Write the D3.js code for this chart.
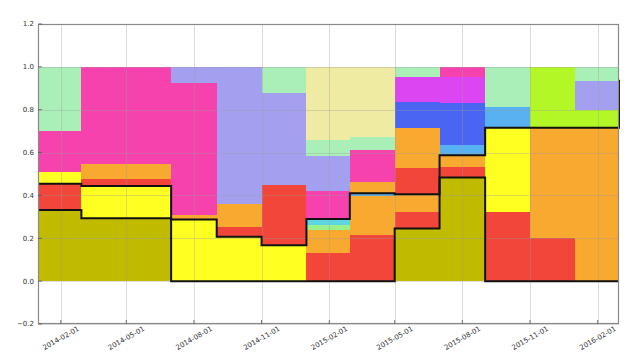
<!DOCTYPE html>
<html><head><meta charset="utf-8">
<script src="https://cdn.jsdelivr.net/npm/d3@7"></script>
<style>html,body{margin:0;padding:0;background:#fff;}svg{display:block;}</style>
</head><body>
<svg id="chart" width="640" height="358"></svg>
<script>
// ---- data ----
const periodStarts = ["2014-01-01","2014-03-01","2014-05-01","2014-07-01","2014-09-01","2014-11-01",
  "2015-01-01","2015-03-01","2015-05-01","2015-07-01","2015-09-01","2015-11-01","2016-01-01"];
const periodEnd = "2016-03-01";

const olive      = [0.332,0.293,0.293,0,0,0,0,0,0.246,0.484,0,0,0];
const red        = [0.121,0,0,0,0,0,0.130,0.215,0.078,0.050,0.324,0.200,0];
const yellow     = [0.057,0.151,0.151,0.288,0.207,0.168,0,0,0,0,0.392,0,0];
const red2       = [0,0.031,0.031,0,0.047,0.280,0,0,0,0,0,0,0];
const orange     = [0,0.071,0.071,0.022,0.106,0,0.108,0.182,0.081,0.054,0,0.516,0.713];
const lightgreen = [0,0,0,0,0,0,0.024,0,0,0,0,0,0];
const cyan       = [0,0,0,0,0,0,0.028,0,0,0,0,0,0];
const lightblue  = [0,0,0,0,0,0,0,0.015,0,0.047,0.098,0,0];
const red3       = [0,0,0,0,0,0,0,0,0.121,0,0,0,0];
const orange2    = [0,0,0,0,0,0,0,0.052,0.187,0,0,0,0];
const lime       = [0,0,0,0,0,0,0,0,0,0,0,0.284,0.085];
const pink       = [0.190,0.454,0.454,0.616,0,0,0.132,0.148,0,0,0,0,0];
const lilac      = [0,0,0,0.074,0.640,0.431,0.162,0,0,0,0,0,0.137];
const blue       = [0,0,0,0,0,0,0,0,0.124,0.195,0,0,0];
const violet     = [0,0,0,0,0,0,0,0,0.117,0.124,0,0,0];
const palegreen  = [0.300,0,0,0,0,0.121,0.074,0.062,0.046,0,0.186,0,0.065];
const paleyellow = [0,0,0,0,0,0,0.342,0.326,0,0,0,0,0];
const pink2      = [0,0,0,0,0,0,0,0,0,0.046,0,0,0];

const seriesNames  = ["olive","red","yellow","red2","orange","lightgreen","cyan","lightblue","red3","orange2",
  "lime","pink","lilac","blue","violet","palegreen","paleyellow","pink2"];
const seriesValues = [olive,red,yellow,red2,orange,lightgreen,cyan,lightblue,red3,orange2,
  lime,pink,lilac,blue,violet,palegreen,paleyellow,pink2];
const seriesColors = ["#c1bb00","#f3463a","#ffff22","#f3463a","#f7a930","#9cf08c","#5ed6e2","#58b2f2","#f3463a","#f7a930",
  "#b3f826","#f542ac","#a3a0f0","#4a65f2","#dc46f2","#aaefb8","#efeba2","#f542ac"];

// black step lines (value at each period start, plus end)
const lineA = [0.332,0.293,0.293,0,0,0,0,0,0.246,0.484,0,0,0,0];
const lineB = [0.455,0.444,0.444,0.288,0.207,0.168,0.290,0.410,0.405,0.588,0.716,0.716,0.716,0.940];

const yTicks = [-0.2,0.0,0.2,0.4,0.6,0.8,1.0,1.2];
const xTickLabels = ["2014-02-01","2014-05-01","2014-08-01","2014-11-01","2015-02-01",
  "2015-05-01","2015-08-01","2015-11-01","2016-02-01"];

// ---- layout ----
const L = 38, R = 619, T = 24, B = 324;
const parse = d3.timeParse("%Y-%m-%d");
const svg = d3.select("#chart");
const x = d3.scaleTime().domain([parse(periodStarts[0]), parse(periodEnd)]).range([L, R]);
const y = d3.scaleLinear().domain([-0.2, 1.2]).range([B, T]);

// table for stacking (last row repeats final period to close the step at the end date)
const dates = periodStarts.map(parse).concat([parse(periodEnd)]);
const rows = dates.map((d, i) => {
  const k = Math.min(i, periodStarts.length - 1);
  const r = {date: d};
  seriesNames.forEach((n, j) => r[n] = seriesValues[j][k]);
  return r;
});
const stack = d3.stack().keys(seriesNames);
const layers = stack(rows);

const area = d3.area()
  .x(d => x(d.data.date))
  .y0(d => y(d[0]))
  .y1(d => y(d[1]))
  .curve(d3.curveStepAfter);

svg.append("g").selectAll("path").data(layers).join("path")
  .attr("d", area)
  .attr("fill", (d, i) => seriesColors[i])
  .attr("shape-rendering", "crispEdges");

// grid on top
const grid = svg.append("g").attr("stroke", "#9a9a9a").attr("stroke-opacity", 0.35).attr("stroke-width", 1);
grid.selectAll("line.h").data(yTicks).join("line").attr("class","h")
  .attr("x1", L).attr("x2", R).attr("y1", d => Math.round(y(d)) + 0.5).attr("y2", d => Math.round(y(d)) + 0.5);
grid.selectAll("line.v").data(xTickLabels).join("line").attr("class","v")
  .attr("y1", T).attr("y2", B).attr("x1", d => Math.round(x(parse(d))) + 0.5).attr("x2", d => Math.round(x(parse(d))) + 0.5);

// black step lines
const line = d3.line().x((d, i) => x(dates[i])).y(d => y(d)).curve(d3.curveStepAfter);
[lineA, lineB].forEach(arr => {
  svg.append("path").attr("d", line(arr)).attr("fill", "none")
    .attr("stroke", "#111").attr("stroke-width", 2).attr("stroke-linejoin", "miter");
});

// frame
svg.append("rect").attr("x", L + 0.5).attr("y", T + 0.5).attr("width", R - L - 1).attr("height", B - T - 1)
  .attr("fill", "none").attr("stroke", "#8a8a8a").attr("stroke-width", 1.2);

// y axis labels and ticks
const fmtY = d => (d < 0 ? "\u2212" : "") + Math.abs(d).toFixed(1);
const yg = svg.append("g");
yg.selectAll("text").data(yTicks).join("text")
  .attr("x", L - 4).attr("y", d => y(d)).attr("dy", "0.35em")
  .attr("text-anchor", "end")
  .attr("font-family", "DejaVu Sans, sans-serif").attr("font-size", 7).attr("fill", "#333")
  .text(fmtY);
yg.selectAll("line").data(yTicks).join("line")
  .attr("x1", L).attr("x2", L + 4).attr("y1", d => y(d)).attr("y2", d => y(d))
  .attr("stroke", "#555").attr("stroke-width", 0.8);

// x labels
const xg = svg.append("g");
xg.selectAll("text").data(xTickLabels).join("text")
  .attr("transform", d => `translate(${x(parse(d))},${B + 14}) rotate(-30)`)
  .attr("text-anchor", "middle").attr("dy", "0.35em")
  .attr("font-family", "DejaVu Sans, sans-serif").attr("font-size", 7).attr("fill", "#333")
  .text(d => d);
xg.selectAll("line").data(xTickLabels).join("line")
  .attr("x1", d => x(parse(d))).attr("x2", d => x(parse(d))).attr("y1", B).attr("y2", B - 4)
  .attr("stroke", "#555").attr("stroke-width", 0.8);
</script>
</body></html>
